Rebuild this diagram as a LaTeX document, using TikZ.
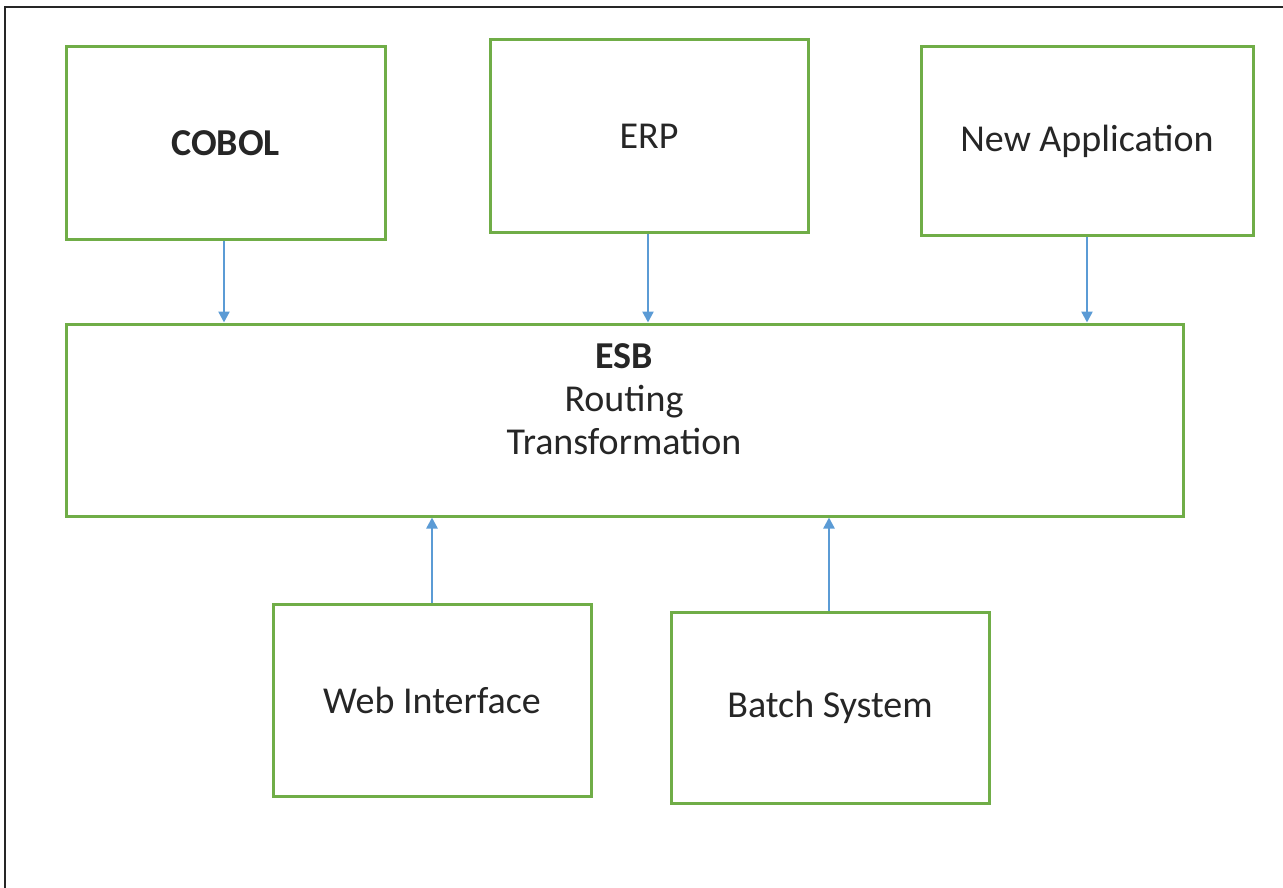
\documentclass[tikz,border=0pt]{standalone}
\usepackage{fontspec}
\setmainfont{Carlito}
\usetikzlibrary{arrows.meta}
\definecolor{boxgreen}{RGB}{112,173,71}
\definecolor{linkblue}{RGB}{91,155,213}
\tikzset{
  sysbox/.style={draw=boxgreen, line width=3pt, fill=white, rectangle, inner sep=0pt,
                 font=\fontsize{38}{43}\selectfont, text=black!85},
  lbl/.style={align=center, inner sep=0pt, font=\fontsize{38}{43}\selectfont, text=black!85},
  link/.style={draw=linkblue, line width=2.4pt, -{Triangle[length=11pt,width=11pt]}},
}
\begin{document}
\begin{tikzpicture}[x=1pt,y=-1pt]
  \useasboundingbox (0,0) rectangle (1283,888);
  % frame edges
  \draw[line width=2.8pt, black!85] (5,888) -- (5,7) -- (1283,7);

  % source systems
  \node[sysbox, minimum width=319pt, minimum height=192pt] (cobol) at (225.5,143) {\bfseries COBOL};
  \node[sysbox, minimum width=318pt, minimum height=192pt] (erp) at (649,136) {ERP};
  \node[sysbox, minimum width=332pt, minimum height=188pt] (newapp) at (1087,141) {New Application};

  % service bus
  \node[sysbox, minimum width=1117pt, minimum height=192pt] (esb) at (624.5,420) {};
  \node[lbl] (esbtext) at (624,399) {\textbf{ESB}\\Routing\\Transformation};

  % lower systems
  \node[sysbox, minimum width=318pt, minimum height=192pt] (web) at (432,700) {Web Interface};
  \node[sysbox, minimum width=318pt, minimum height=191pt] (batch) at (830,707.5) {Batch System};

  % connectors
  \draw[link] ([xshift=-1.5pt]cobol.south) -- ([xshift=-1.5pt]cobol.south |- esb.north);
  \draw[link] ([xshift=-1pt]erp.south) -- ([xshift=-1pt]erp.south |- esb.north);
  \draw[link] (newapp.south) -- (newapp.south |- esb.north);
  \draw[link] (web.north) -- (web.north |- esb.south);
  \draw[link] ([xshift=-1pt]batch.north) -- ([xshift=-1pt]batch.north |- esb.south);
\end{tikzpicture}
\end{document}
